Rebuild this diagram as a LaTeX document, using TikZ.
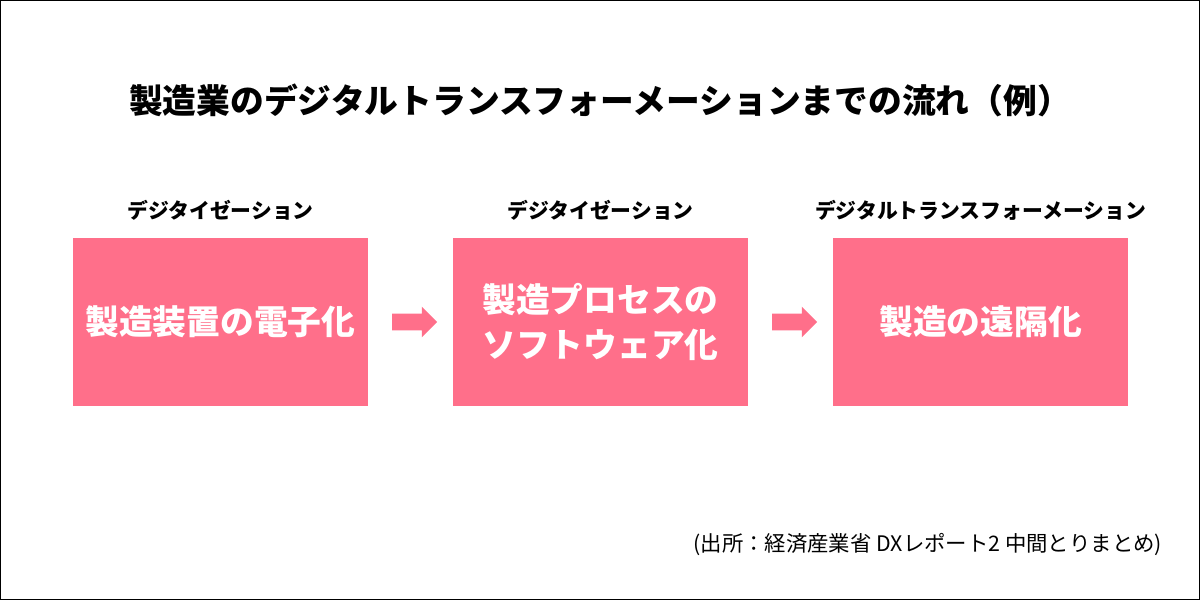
\documentclass[tikz,border=0pt]{standalone}
\usepackage{fontspec}
\setmainfont{Noto Sans CJK JP}
\usetikzlibrary{positioning,shapes.arrows}
\definecolor{stagepink}{HTML}{FF6F8A}
\begin{document}
\begin{tikzpicture}[x=0.025cm,y=-0.025cm,
  stagebox/.style={fill=stagepink,minimum width=295*0.025cm,minimum height=168*0.025cm,
    text=white,font=\fontsize{24}{32}\selectfont\bfseries,align=center,inner sep=0pt},
  stagelabel/.style={font=\fontsize{14.8}{18}\selectfont\bfseries},
  flowarrow/.style={single arrow,fill=stagepink,minimum height=45*0.025cm,
    inner xsep=0pt,inner ysep=8*0.025cm,single arrow head extend=7*0.025cm}
  ]
  \draw[line width=0.7pt] (0.5,0.5) rectangle (1199.5,599.5);
  \node[font=\fontsize{24}{28}\selectfont\bfseries] (title) at (600,100)
    {製造業のデジタルトランスフォーメーションまでの流れ（例）};
  % stages
  \node[stagebox] (digi) at (220.5,322) {製造装置の電子化};
  \node[stagebox] (soft) at (600.5,322) {製造プロセスの\\ソフトウェア化};
  \node[stagebox] (remote) at (980.5,322) {製造の遠隔化};
  \node[stagelabel,above=9pt of digi] (digilabel) {デジタイゼーション};
  \node[stagelabel,above=9pt of soft] (softlabel) {デジタイゼーション};
  \node[stagelabel,above=9pt of remote] (remotelabel) {デジタルトランスフォーメーション};
  % arrows
  \node[flowarrow] (arrowa) at (410.5,322) {};
  \node[flowarrow] (arrowb) at (790.5,322) {};
  \node[font=\fontsize{15.2}{18}\selectfont,anchor=east] (source) at (1167,545)
    {(出所：経済産業省 DXレポート2 中間とりまとめ)};
\end{tikzpicture}
\end{document}
